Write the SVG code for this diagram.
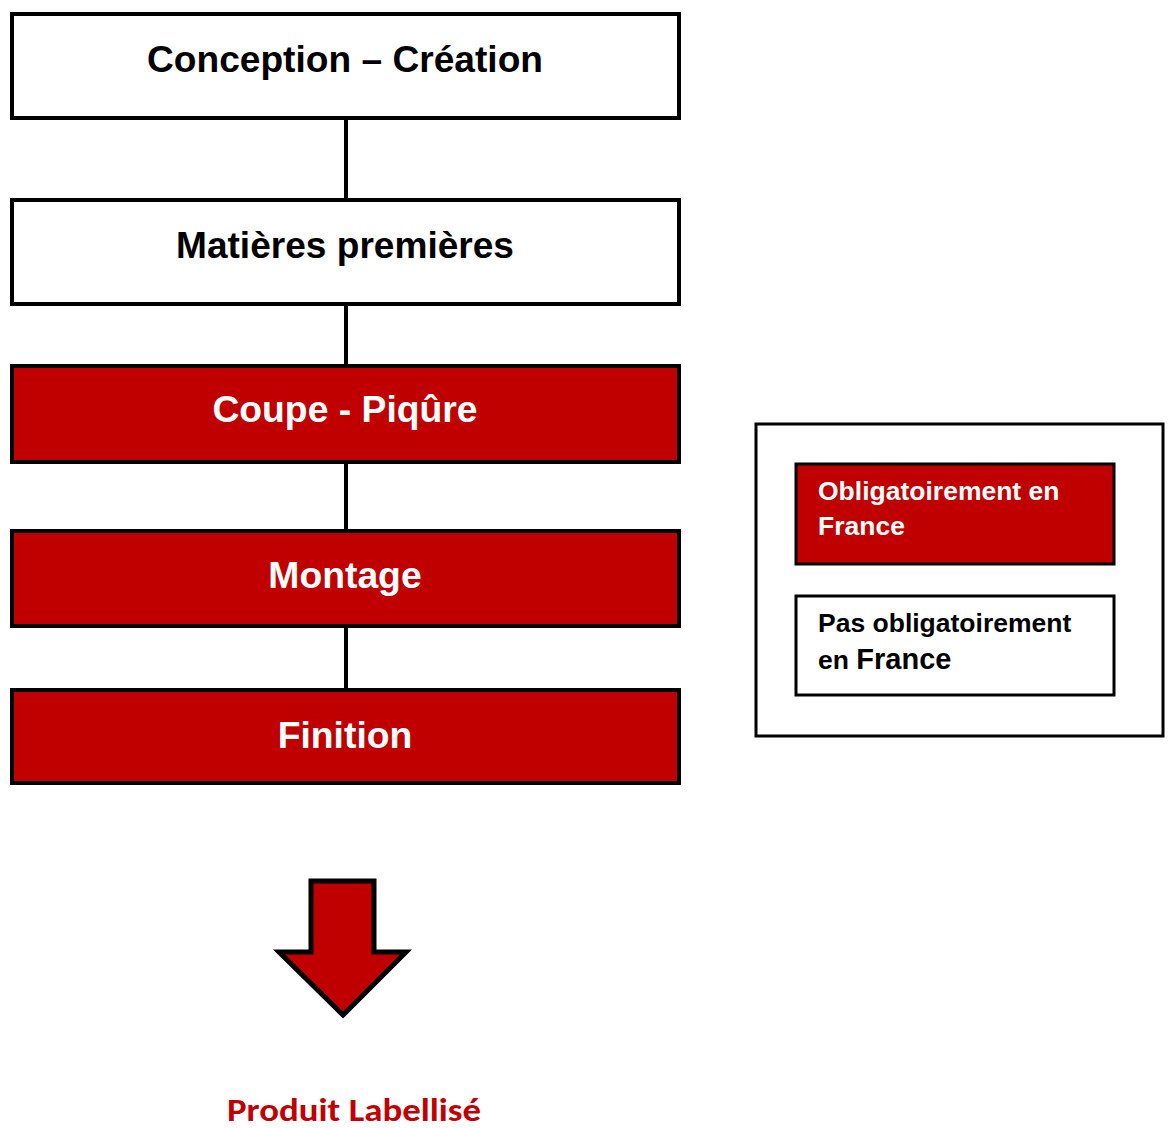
<svg xmlns="http://www.w3.org/2000/svg" width="1171" height="1128" viewBox="0 0 1171 1128">
<style>
.box{stroke:#000;stroke-width:4}
.white{fill:#fff}
.red{fill:#C00000}
.t{font-family:"Liberation Sans",Arial,sans-serif;font-weight:bold;text-anchor:middle}
.narrow{font-family:"Liberation Sans Narrow","Liberation Sans",Arial,sans-serif}
.lt{font-family:"Liberation Sans",Arial,sans-serif;font-weight:bold;font-size:26.5px}
.conn{stroke:#000;stroke-width:4;fill:none}
</style>
<rect width="1171" height="1128" fill="#fff"/>
<g id="connectors">
<line class="conn" x1="346" y1="118" x2="346" y2="200"/>
<line class="conn" x1="346" y1="304" x2="346" y2="366"/>
<line class="conn" x1="346" y1="462" x2="346" y2="531"/>
<line class="conn" x1="346" y1="626" x2="346" y2="690"/>
</g>
<g id="conception">
<rect class="box white" x="12" y="14" width="667" height="104"/>
<text class="t narrow" x="345" y="72" font-size="37" textLength="396" lengthAdjust="spacingAndGlyphs">Conception – Création</text>
</g>
<g id="matieres">
<rect class="box white" x="12" y="200" width="667" height="104"/>
<text class="t narrow" x="345" y="258" font-size="37" textLength="338" lengthAdjust="spacingAndGlyphs">Matières premières</text>
</g>
<g id="coupe">
<rect class="box red" x="12" y="366" width="667" height="96"/>
<text class="t" x="345" y="422" font-size="37.3" fill="#fff">Coupe - Piqûre</text>
</g>
<g id="montage">
<rect class="box red" x="12" y="531" width="667" height="95"/>
<text class="t" x="345" y="588" font-size="37.3" fill="#fff">Montage</text>
</g>
<g id="finition">
<rect class="box red" x="12" y="690" width="667" height="93"/>
<text class="t" x="345" y="748" font-size="37.3" fill="#fff">Finition</text>
</g>
<g id="arrow">
<polygon points="311,881 374,881 374,952 406,952 343,1015 279,952 311,952" fill="#C00000" stroke="#000" stroke-width="5" stroke-linejoin="miter"/>
</g>
<g id="produit">
<text x="354" y="1121" font-family="Carlito,'Open Sans','Liberation Sans',sans-serif" font-weight="bold" font-size="32" fill="#C00000" text-anchor="middle" textLength="254" lengthAdjust="spacingAndGlyphs">Produit Labellisé</text>
</g>
<g id="legend">
<rect x="756" y="424" width="407" height="312" fill="#fff" stroke="#000" stroke-width="3"/>
<g id="legend-obligatoire">
<rect x="796" y="464" width="318" height="100" fill="#C00000" stroke="#000" stroke-width="3"/>
<text class="lt" x="818" y="500" fill="#fff">Obligatoirement en</text>
<text class="lt" x="818" y="535" fill="#fff">France</text>
</g>
<g id="legend-pas">
<rect x="796" y="596" width="318" height="99" fill="#fff" stroke="#000" stroke-width="3"/>
<text class="lt" x="818" y="632" fill="#000">Pas obligatoirement</text>
<text class="lt" x="818" y="669" fill="#000">en <tspan font-size="29">France</tspan></text>
</g>
</g>
</svg>
